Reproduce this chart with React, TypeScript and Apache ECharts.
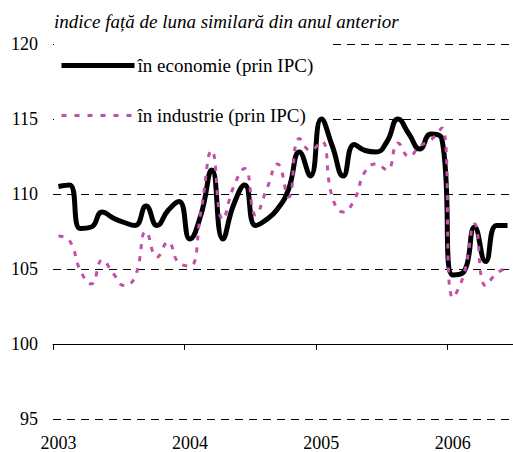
import React, { useEffect, useRef } from "react";
import * as echarts from "echarts";

const months: string[] = [];
for (let y = 2003; y <= 2006; y++) {
  for (let m = 1; m <= 12; m++) {
    if (y === 2006 && m > 6) break;
    months.push(`${y}-${m < 10 ? "0" + m : m}`);
  }
}

const economie = [
  110.5, 110.6, 107.7, 107.8, 108.8, 108.4, 108.1, 107.9, 109.2, 107.9, 108.9, 109.5,
  107.0, 108.6, 111.6, 107.0, 109.3, 110.6, 107.9, 108.3, 109.0, 110.3, 112.8, 111.2,
  115.0, 113.2, 111.2, 113.3, 112.9, 112.8, 113.5, 115.0, 114.0, 113.0, 114.0, 113.7,
  104.6, 104.8, 107.8, 105.5, 107.9, 107.9,
];

const industrie = [
  107.2, 106.9, 104.9, 104.0, 105.6, 104.7, 103.9, 104.5, 107.5, 105.8, 106.8, 105.4,
  105.2, 108.8, 112.9, 108.3, 110.5, 111.7, 108.6, 110.3, 112.0, 109.8, 113.7, 112.9,
  113.5, 109.8, 108.8, 109.6, 111.5, 112.0, 111.6, 113.4, 112.5, 113.2, 113.6, 114.4,
  103.1, 104.6, 108.0, 103.9, 104.7, 105.1,
];

const seriesNames = ["în economie (prin IPC)", "în industrie (prin IPC)"];
const titleText = "indice față de luna similară din anul anterior";

const FONT = "Liberation Serif";
const PINK = "#c050a8";

export default function App() {
  const ref = useRef<HTMLDivElement>(null);
  useEffect(() => {
    if (!ref.current) return;
    const chart = echarts.init(ref.current, undefined, { renderer: "svg" });
    chart.setOption({
      animation: false,
      backgroundColor: "#ffffff",
      textStyle: { fontFamily: FONT },
      title: {
        text: titleText,
        left: 54,
        top: 12,
        padding: 0,
        textStyle: {
          fontFamily: FONT,
          fontStyle: "italic",
          fontWeight: "normal",
          fontSize: 19,
          color: "#000",
        },
      },
      legend: {
        orient: "vertical",
        left: 54,
        top: 40,
        z: 1,
        padding: [16, 18, 8, 5],
        backgroundColor: "#ffffff",
        itemWidth: 73,
        itemHeight: 14,
        itemGap: 31,
        textStyle: {
          fontFamily: FONT,
          fontSize: 19,
          color: "#000",
          padding: [3, 0, 0, -2],
        },
        data: [
          {
            name: seriesNames[0],
            itemStyle: { opacity: 0 },
            lineStyle: { width: 5, color: "#000", type: "solid", opacity: 1 },
          },
          {
            name: seriesNames[1],
            itemStyle: { opacity: 0 },
            lineStyle: { width: 3, color: PINK, type: [5, 8], opacity: 1 },
          },
        ],
      },
      grid: { left: 53, right: -1, top: 44, bottom: 33, containLabel: false },
      xAxis: [
        {
          type: "category",
          data: months,
          boundaryGap: true,
          position: "bottom",
          axisLine: { show: false },
          axisTick: { show: false },
          splitLine: { show: false },
          axisLabel: {
            interval: 11,
            margin: 15,
            fontFamily: FONT,
            fontSize: 18,
            color: "#000",
            formatter: (v: string) => v.slice(0, 4),
          },
        },
        {
          type: "category",
          data: months,
          boundaryGap: true,
          position: "bottom",
          offset: -75,
          axisLine: { show: true, lineStyle: { color: "#000", width: 1 } },
          axisTick: { show: true, interval: 11, length: 6, lineStyle: { color: "#000", width: 1 } },
          axisLabel: { show: false },
          splitLine: { show: false },
        },
      ],
      yAxis: {
        type: "value",
        min: 95,
        max: 120,
        interval: 5,
        axisLine: { show: false },
        axisTick: { show: false },
        axisLabel: {
          margin: 15,
          fontFamily: FONT,
          fontSize: 18,
          color: "#000",
        },
        splitLine: {
          show: true,
          lineStyle: { color: "#000", width: 1, type: [8, 6] },
        },
      },
      series: [
        {
          name: seriesNames[0],
          type: "line",
          xAxisIndex: 0,
          data: economie,
          smooth: 0.5,
          symbol: "none",
          z: 3,
          lineStyle: { color: "#000", width: 5 },
          itemStyle: { color: "#000" },
        },
        {
          name: seriesNames[1],
          type: "line",
          xAxisIndex: 0,
          data: industrie,
          smooth: 0.5,
          symbol: "none",
          z: 4,
          lineStyle: { color: PINK, width: 3, type: [5, 7] },
          itemStyle: { color: PINK },
        },
      ],
    });
    return () => chart.dispose();
  }, []);
  return (
    <div
      ref={ref}
      style={{ position: "fixed", left: 0, top: 0, width: 513, height: 452 }}
    />
  );
}
